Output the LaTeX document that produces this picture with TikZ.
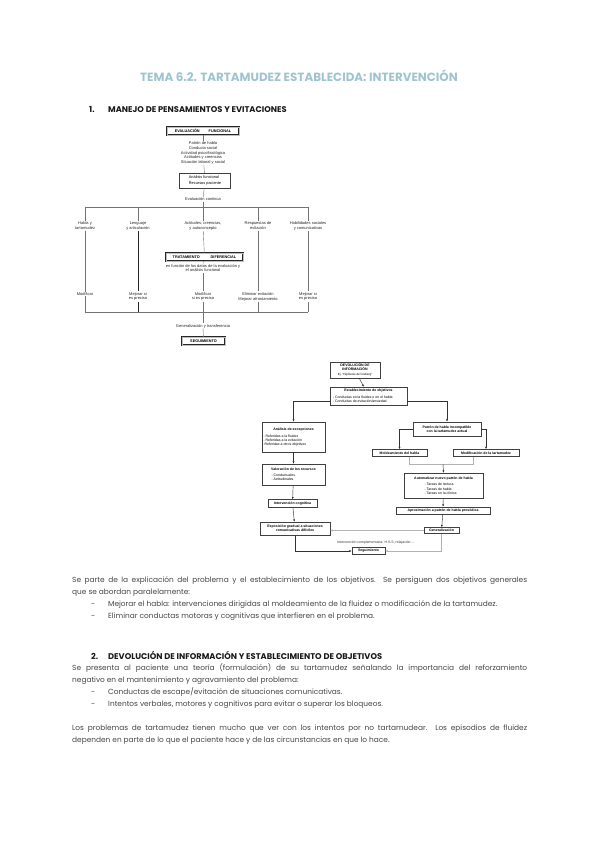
\documentclass[tikz,border=0pt]{standalone}
\usepackage{fontspec}
\setmainfont{Poppins}
\newfontfamily\dfont{Liberation Sans}
\usetikzlibrary{arrows.meta,shadows}
\definecolor{titlec}{RGB}{160,196,206}
\definecolor{bodyc}{RGB}{70,70,70}
\begin{document}
\begin{tikzpicture}[x=1pt,y=-1pt,
  d1txt/.style={font=\dfont\fontsize{4}{4.9}\selectfont, align=center, inner sep=0.6pt, text=black!85},
  d1line/.style={draw=black!55, line width=0.4pt},
  d1dark/.style={draw=black!85, line width=0.5pt},
  d1head/.style={draw=black!85, line width=0.4pt, double=black!25, double distance=0.6pt, fill=white, font=\dfont\bfseries\fontsize{3.8}{4.5}\selectfont, inner sep=0.5pt},
  d1box/.style={draw=black!75, line width=0.35pt, fill=white, font=\dfont\fontsize{3.9}{4.6}\selectfont, inner sep=1pt, drop shadow={shadow xshift=0.7pt, shadow yshift=-0.7pt, fill=black!80, opacity=1}},
  d2box/.style={draw=black!75, line width=0.35pt, fill=white, inner sep=0.8pt, align=center, font=\dfont\fontsize{3.5}{4.3}\selectfont, drop shadow={shadow xshift=0.8pt, shadow yshift=-0.8pt, fill=black!85, opacity=1}},
  d2txt/.style={font=\dfont\fontsize{3.5}{4.3}\selectfont, inner sep=0.5pt, text=black!80},
  arr/.style={draw=black!80, line width=0.45pt, -{Latex[length=2.4pt,width=2pt]}},
  arrl/.style={draw=black!30, line width=0.45pt, -{Latex[length=2.4pt,width=2pt]}},
  lt/.style={draw=black!30, line width=0.45pt},
  body/.style={font=\fontsize{7.4}{8.5}\selectfont, text=bodyc, inner sep=0pt, anchor=base west},
  bodyb/.style={font=\bfseries\fontsize{8.3}{9}\selectfont, text=black!90, inner sep=0pt, anchor=base west}
]
\fill[white] (0,0) rectangle (600,848);
\useasboundingbox (0,0) rectangle (600,848);

% ---------- title and heading ----------
\node[font=\bfseries\fontsize{11.9}{13}\selectfont, text=titlec, inner sep=0pt, anchor=base] (title) at (299,82) {TEMA 6.2. TARTAMUDEZ ESTABLECIDA: INTERVENCIÓN};
\node[bodyb] (n1) at (89,113) {1.};
\node[bodyb] (h1t) at (108,113) {MANEJO DE PENSAMIENTOS Y EVITACIONES};

% ---------- diagram 1 ----------
\node[d1head, minimum width=72pt, minimum height=8pt] (ef) at (203,131) {EVALUACIÓN\hspace{9pt}FUNCIONAL};
\node[d1txt] (vars) at (203,153) {Patrón de habla\\Conducta social\\Actividad psicofisiológica\\Actitudes y creencias\\Situación laboral y social};
\node[d1box, minimum width=51pt, minimum height=15pt, align=left] (af) at (205,180.5) {Análisis funcional\\[2.2pt]Recursos paciente};
\node[d1txt] (ec) at (203,199.5) {Evaluación continua};
\coordinate (j1) at (85,207);
\coordinate (j2) at (138,207);
\coordinate (j3) at (203,207);
\coordinate (j4) at (258,207);
\coordinate (j5) at (308,207);
\node[d1txt] (h1) at (85,226) {Habla y\\tartamudez};
\node[d1txt] (h2) at (138,226) {Lenguaje\\y articulación};
\node[d1txt] (h3) at (203,226) {Actitudes, creencias,\\y autoconcepto};
\node[d1txt] (h4) at (258,226) {Respuestas de\\evitación};
\node[d1txt] (h5) at (308,226) {Habilidades sociales\\y comunicativas};
\node[d1head, minimum width=77pt, minimum height=8pt] (trat) at (204.5,257) {TRATAMIENTO\hspace{11pt}DIFERENCIAL};
\node[d1txt] (enf) at (203,268) {en función de los datos de la evaluación y\\el análisis funcional};
\node[d1txt] (m1) at (85,294) {Modificar};
\node[d1txt] (m2) at (138,296.5) {Mejorar si\\es preciso};
\node[d1txt] (m3) at (203,296.5) {Modificar\\si es preciso};
\node[d1txt] (m4) at (258,296.5) {Eliminar evitación\\Mejorar afrontamiento};
\node[d1txt] (m5) at (308,296.5) {Mejorar si\\es preciso};
\coordinate (k1) at (85,312);
\coordinate (k2) at (138,312);
\coordinate (k3) at (203,312);
\coordinate (k4) at (258,312);
\coordinate (k5) at (308,312);
\node[d1txt] (gen) at (203,326) {Generalización y transferencia};
\node[d1head, minimum width=43pt, minimum height=8pt] (seg) at (203.5,341) {SEGUIMIENTO};

\draw[d1line] (ef) -- (vars);
\draw[d1line] (vars) -- (af);
\draw[d1line] (af) -- (ec);
\draw[d1line] (ec) -- (j3);
\draw[d1line] (j1) -- (j5);
\draw[d1line] (j1) -- (h1);
\draw[d1line] (j2) -- (h2);
\draw[d1line] (j3) -- (h3);
\draw[d1line] (j4) -- (h4);
\draw[d1line] (j5) -- (h5);
\draw[d1line] (h1) -- (m1) -- (k1);
\draw[d1dark] (h2) -- (m2) -- (k2);
\draw[d1line] (h3) -- (trat);
\draw[d1line] (trat) -- (enf);
\draw[d1line] (enf) -- (m3);
\draw[d1line] (m3) -- (k3);
\draw[d1line] (h4) -- (m4) -- (k4);
\draw[d1line] (h5) -- (m5) -- (k5);
\draw[d1line] (k1) -- (k5);
\draw[d1line] (k3) -- (gen);
\draw[d1line] (gen) -- (seg);

% ---------- diagram 2 ----------
\node[d2box, minimum width=50pt, minimum height=16pt] (dev) at (355,370) {\textbf{DEVOLUCIÓN DE}\\\textbf{INFORMACIÓN}\\[0.5pt]{\fontsize{3}{3.6}\selectfont Ej. “Hipótesis del iceberg”}};
\node[d2box, minimum width=77pt, minimum height=18pt] (est) at (368.5,396) {\textbf{Establecimiento de objetivos}\\[2pt]\makebox[71pt][l]{- Conductas en la fluidez o en el habla}\\\makebox[71pt][l]{- Conductas de evitación/ansiedad}};
\node[d2box, minimum width=63pt, minimum height=30pt] (exc) at (293.5,437) {\textbf{Análisis de excepciones}\\[2.5pt]\makebox[60pt][l]{- Referidas a la fluidez}\\\makebox[60pt][l]{- Referidas a la evitación}\\\makebox[60pt][l]{-Referidas a otros objetivos}};
\node[d2box, minimum width=63pt, minimum height=21pt] (val) at (293.5,474.5) {\textbf{Valoración de los recursos}\\[1.5pt]\makebox[44pt][l]{- Conductuales}\\\makebox[44pt][l]{- Actitudinales}};
\node[d2box, minimum width=49pt, minimum height=8pt] (intc) at (292.5,503.5) {\textbf{Intervención cognitiva}};
\node[d2box, minimum width=70pt, minimum height=13pt] (expo) at (295,528.5) {\textbf{Exposición gradual a situaciones}\\\textbf{comunicativas difíciles}};
\node[d2box, minimum width=33pt, minimum height=7pt] (seg2) at (368.5,551) {\textbf{Seguimiento}};
\node[d2txt] (compl) at (376,543) {Intervención complementaria: H.S.S, relajación ...};
\node[d2box, minimum width=68pt, minimum height=14pt] (pat) at (447,429) {\textbf{Patrón de habla incompatible}\\\textbf{con la tartamudez actual}};
\node[d2box, minimum width=55pt, minimum height=7pt] (mold) at (399.5,453) {\textbf{Moldeamiento del habla}};
\node[d2box, minimum width=66pt, minimum height=7pt] (modt) at (486,453) {\textbf{Modificación de la tartamudez}};
\node[d2box, minimum width=79pt, minimum height=25pt] (auto) at (443.5,485.5) {\textbf{Automatizar nuevo patrón de habla}\\[2.5pt]\makebox[38pt][l]{- Tareas de lectura}\\\makebox[38pt][l]{- Tareas de habla}\\\makebox[38pt][l]{- Tareas en la clínica}};
\node[d2box, minimum width=94pt, minimum height=7pt] (aprox) at (443,510.5) {\textbf{Aproximación a patrón de habla prosódica}};
\node[d2box, minimum width=35pt, minimum height=6pt] (gen2) at (441.5,530.5) {\textbf{Generalización}};
\coordinate (mj) at (409,464);
\coordinate (jn) at (443,464);
\coordinate (tj) at (473,464);

\draw[arr] (dev) -- (est);
\draw[arr] ([yshift=-5pt]est.west) -| (exc.north);
\draw[arr] ([yshift=-5pt]est.east) -| (pat.north);
\draw[arr] (exc) -- (val);
\draw[arr] (val) -- (intc);
\draw[arr] (intc) -- (expo);
\draw[arr] (pat.west) -| (mold.north);
\draw[arr] (pat.east) -| (modt.north);
\draw[lt] (mold.south -| mj) -- (mj) -- (tj) -- (modt.south -| tj);
\draw[arr] (jn) -- (auto.north);
\draw[arr] (auto) -- (aprox);
\draw[arr] (aprox) -- (gen2);
\draw[arrl] (gen2.west) -- (gen2.west -| expo.east);
\draw[arr] (expo.south) |- (seg2.west);
\draw[arrl] (gen2.south) |- (seg2.east);

% ---------- body text ----------
\node[body] (p1a) at (72,582.5) {\makebox[455pt][s]{Se parte de la explicación del problema y el establecimiento de los objetivos. Se persiguen dos objetivos generales}};
\node[body] (p1b) at (72,594) {que se abordan paralelamente:};
\node[body] (d1) at (91,606.5) {-};
\node[body] (b1) at (108,606.5) {Mejorar el habla: intervenciones dirigidas al moldeamiento de la fluidez o modificación de la tartamudez.};
\node[body] (d2) at (91,618.5) {-};
\node[body] (b2) at (108,618.5) {Eliminar conductas motoras y cognitivas que interfieren en el problema.};
\node[bodyb] (n2) at (91,659) {2.};
\node[bodyb] (h2t) at (108,659) {DEVOLUCIÓN DE INFORMACIÓN Y ESTABLECIMIENTO DE OBJETIVOS};
\node[body] (p2a) at (72,670) {\makebox[455pt][s]{Se presenta al paciente una teoría (formulación) de su tartamudez señalando la importancia del reforzamiento}};
\node[body] (p2b) at (72,682) {negativo en el mantenimiento y agravamiento del problema:};
\node[body] (d3) at (91,694) {-};
\node[body] (b3) at (108,694) {Conductas de escape/evitación de situaciones comunicativas.};
\node[body] (d4) at (91,706) {-};
\node[body] (b4) at (108,706) {Intentos verbales, motores y cognitivos para evitar o superar los bloqueos.};
\node[body] (p3a) at (72,730) {\makebox[455pt][s]{Los problemas de tartamudez tienen mucho que ver con los intentos por no tartamudear. Los episodios de fluidez}};
\node[body] (p3b) at (72,742) {dependen en parte de lo que el paciente hace y de las circunstancias en que lo hace.};
\end{tikzpicture}
\end{document}
